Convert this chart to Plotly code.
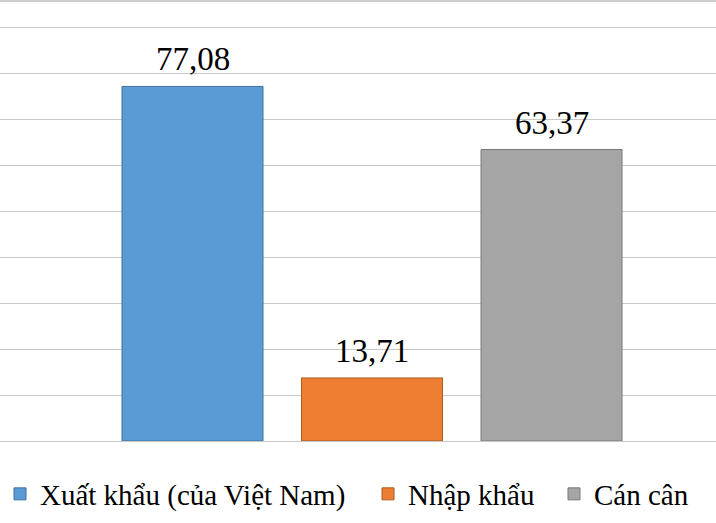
import plotly.graph_objects as go

categories = ["Xuất khẩu (của Việt Nam)", "Nhập khẩu", "Cán cân"]
values = [77.08, 13.71, 63.37]
colors = ["#5b9bd5", "#ed7d31", "#a5a5a5"]
edge_colors = ["#41719c", "#ae5a21", "#787878"]
legend_ids = ["legend", "legend2", "legend3"]
legend_x_px = [0, 368, 554]

FONT = "Liberation Serif, Times New Roman, serif"
W, H = 716, 523
plot_bottom = 82
plot_h = H - plot_bottom

fig = go.Figure()
for cat, val, col, ec, lg in zip(categories, values, colors, edge_colors, legend_ids):
    fig.add_trace(go.Bar(
        x=[cat], y=[val], name=cat, width=0.7855, legend=lg,
        marker=dict(color=col, line=dict(color=ec, width=1)),
        hoverinfo="x+y",
    ))

for cat, val in zip(categories, values):
    fig.add_annotation(
        x=cat, y=val, text=f"{val:.2f}".replace(".", ","),
        showarrow=False, yanchor="bottom", yshift=7,
        font=dict(family=FONT, size=33, color="#000000"),
    )

fig.add_shape(type="line", xref="paper", yref="paper", x0=0, x1=1,
              y0=1 - 1 / plot_h, y1=1 - 1 / plot_h,
              line=dict(color="#cfcfcf", width=2))

legend_common = dict(orientation="h", xanchor="left", y=-53 / plot_h, yanchor="middle",
                     font=dict(family=FONT, size=29, color="#000000"),
                     bgcolor="rgba(0,0,0,0)", borderwidth=0)
layout_legends = {}
for lg, xp in zip(legend_ids, legend_x_px):
    layout_legends[lg] = dict(x=xp / W, **legend_common)

fig.update_layout(
    width=W, height=H,
    margin=dict(l=0, r=0, t=0, b=plot_bottom),
    paper_bgcolor="white", plot_bgcolor="white",
    barmode="overlay",
    showlegend=True,
    font=dict(family=FONT),
    **layout_legends,
)
fig.update_xaxes(type="category", categoryorder="array", categoryarray=categories,
                 range=[-1.0724, 2.9164], showticklabels=False, ticks="",
                 showgrid=False, zeroline=False, showline=False)
fig.update_yaxes(range=[0, 441 / 4.6], dtick=10, tick0=0, showticklabels=False,
                 ticks="", showgrid=True, gridcolor="#c8c8c8", gridwidth=1,
                 zeroline=True, zerolinecolor="#c8c8c8", zerolinewidth=1, showline=False)

fig.write_html("out.html")
